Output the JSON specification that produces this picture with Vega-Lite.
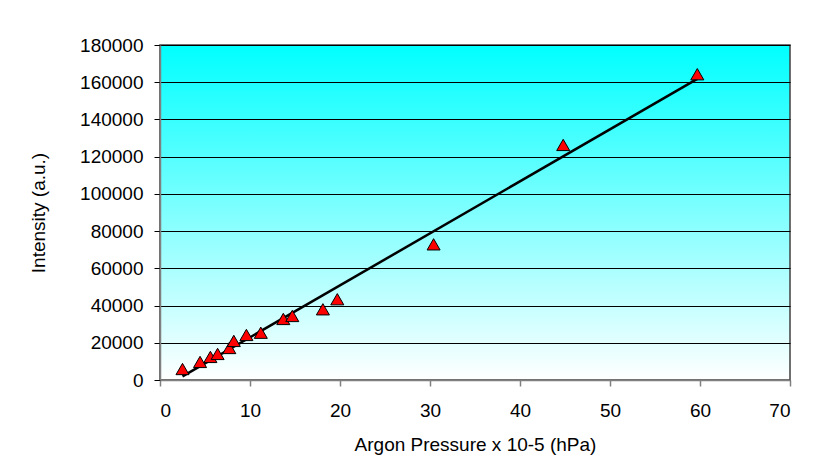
{
  "$schema": "https://vega.github.io/schema/vega-lite/v6.json",
  "width": 630,
  "height": 335,
  "autosize": {"type": "none"},
  "padding": {"left": 160, "top": 45, "right": 40, "bottom": 90},
  "background": "white",
  "config": {
    "font": "Liberation Sans",
    "view": {
      "fill": {"gradient": "linear", "x1": 0, "y1": 0, "x2": 0, "y2": 1, "stops": [{"offset": 0, "color": "#00FFFF"}, {"offset": 1, "color": "#FFFFFF"}]},
      "stroke": "#404040",
      "strokeWidth": 1.5
    }
  },
  "data": {
    "values": [
      {"pressure": 2.5, "intensity": 5900},
      {"pressure": 4.45, "intensity": 9700},
      {"pressure": 5.6, "intensity": 12400},
      {"pressure": 6.4, "intensity": 14000},
      {"pressure": 7.7, "intensity": 17200},
      {"pressure": 8.2, "intensity": 21000},
      {"pressure": 9.6, "intensity": 24200},
      {"pressure": 11.2, "intensity": 25400},
      {"pressure": 13.7, "intensity": 32800},
      {"pressure": 14.7, "intensity": 34400},
      {"pressure": 18.1, "intensity": 38000},
      {"pressure": 19.7, "intensity": 43400},
      {"pressure": 30.4, "intensity": 72900},
      {"pressure": 44.8, "intensity": 126300},
      {"pressure": 59.7, "intensity": 164300}
    ]
  },
  "encoding": {
    "x": {
      "field": "pressure", "type": "quantitative",
      "scale": {"domain": [0, 70], "nice": false, "zero": false},
      "axis": {
        "title": "Argon Pressure x 10-5 (hPa)",
        "values": [0, 10, 20, 30, 40, 50, 60, 70],
        "grid": false,
        "domainColor": "#808080", "domainWidth": 1.5,
        "tickColor": "#808080", "tickSize": 6, "tickWidth": 1.5,
        "labelFontSize": 19, "labelColor": "black", "labelPadding": 15,
        "titleFontSize": 19, "titleFontWeight": "normal", "titleColor": "black", "titlePadding": 15
      }
    },
    "y": {
      "field": "intensity", "type": "quantitative",
      "scale": {"domain": [0, 180000], "nice": false},
      "axis": {
        "title": "Intensity (a.u.)",
        "values": [0, 20000, 40000, 60000, 80000, 100000, 120000, 140000, 160000, 180000],
        "format": "d",
        "grid": true, "gridColor": "black", "gridOpacity": 1, "gridWidth": 1,
        "domainColor": "#808080", "domainWidth": 1.5,
        "tickColor": "black", "tickSize": 6, "tickWidth": 1,
        "labelFontSize": 19, "labelColor": "black", "labelPadding": 11,
        "titleFontSize": 19, "titleFontWeight": "normal", "titleColor": "black", "titlePadding": 31
      }
    }
  },
  "layer": [
    {
      "transform": [{"regression": "intensity", "on": "pressure"}],
      "mark": {"type": "line", "color": "black", "strokeWidth": 2.5}
    },
    {
      "mark": {"type": "point", "shape": "triangle-up", "filled": true, "fill": "#FF0000", "stroke": "black", "strokeWidth": 1, "size": 170, "opacity": 1}
    }
  ]
}
